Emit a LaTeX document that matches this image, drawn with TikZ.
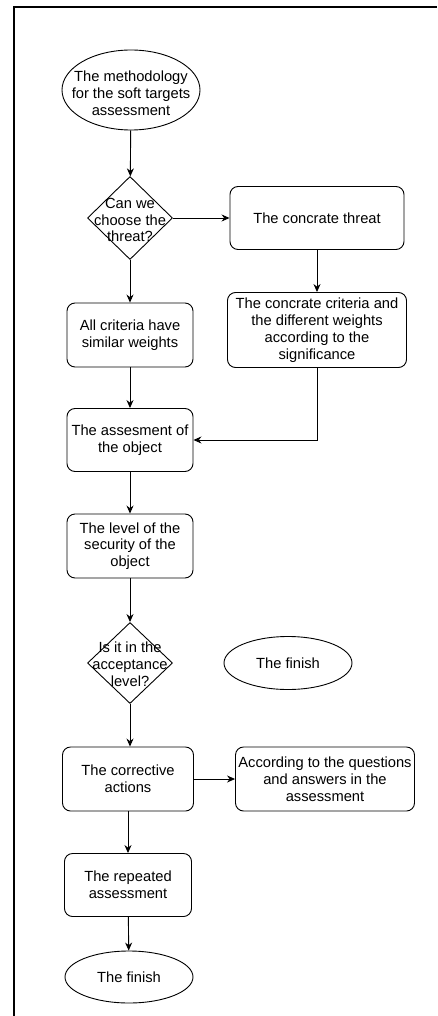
\documentclass[tikz,border=0pt]{standalone}
\usepackage{fontspec}
\setmainfont{Liberation Sans}
\usetikzlibrary{shapes.geometric,arrows.meta}
\tikzset{
  box/.style={draw, rounded corners=8pt, line width=0.9pt, align=center, inner sep=0pt},
  terminal/.style={draw, ellipse, line width=0.9pt, inner sep=0pt},
  decision/.style={draw, diamond, line width=0.9pt, inner sep=0pt},
  txt/.style={align=center, inner sep=0pt},
  arr/.style={line width=0.9pt, -{Stealth[length=8pt,width=7pt]}}
}
\begin{document}
\begin{tikzpicture}[x=1pt,y=-1pt,font=\fontsize{14.7}{16.8}\selectfont]
\useasboundingbox (0,0) rectangle (438,1016);
\draw[line width=1.8pt] (14,1016) -- (14,7) -- (437,7);

\node[terminal, minimum width=138, minimum height=80] (start) at (131,90) {};
\node[txt] (starttxt) at (131,93) {The methodology\\for the soft targets\\assessment};
\node[decision, minimum width=85, minimum height=83] (choose) at (130,218) {};
\node[txt] (choosetxt) at (130,220) {Can we\\choose the\\threat?};
\node[box, minimum width=174, minimum height=63] (threat) at (317,218) {The concrate threat};
\node[box, minimum width=179, minimum height=75] (concrete) at (317,330) {The concrate criteria and\\the different weights\\according to the\\significance};
\node[box, minimum width=126, minimum height=64] (similar) at (130,335) {All criteria have\\similar weights};
\node[box, minimum width=126, minimum height=63] (assess) at (130,440) {The assesment of\\the object};
\node[box, minimum width=126, minimum height=64] (level) at (130,546) {The level of the\\security of the\\object};
\node[decision, minimum width=85, minimum height=81] (accept) at (130,663) {};
\node[txt] (accepttxt) at (130,664) {Is it in the\\acceptance\\level?};
\node[terminal, minimum width=128, minimum height=53] (finishA) at (288,663) {The finish};
\node[box, minimum width=131, minimum height=64] (corrective) at (128,779) {The corrective\\actions};
\node[box, minimum width=179, minimum height=64] (according) at (325,779) {According to the questions\\and answers in the\\assessment};
\node[box, minimum width=127, minimum height=63] (repeated) at (128,885) {The repeated\\assessment};
\node[terminal, minimum width=128, minimum height=52] (finishB) at (129,977) {The finish};

\draw[arr] (start) -- (choose);
\draw[arr] (choose) -- (threat);
\draw[arr] (threat) -- (concrete);
\draw[arr] (choose) -- (similar);
\draw[arr] (similar) -- (assess);
\draw[arr] (concrete.south) |- (assess.east);
\draw[arr] (assess) -- (level);
\draw[arr] (level) -- (accept);
\draw[arr] (accept.south) -- (accept.south |- corrective.north);
\draw[arr] (corrective) -- (according);
\draw[arr] (corrective) -- (repeated);
\draw[arr] (repeated) -- (finishB);
\end{tikzpicture}
\end{document}
